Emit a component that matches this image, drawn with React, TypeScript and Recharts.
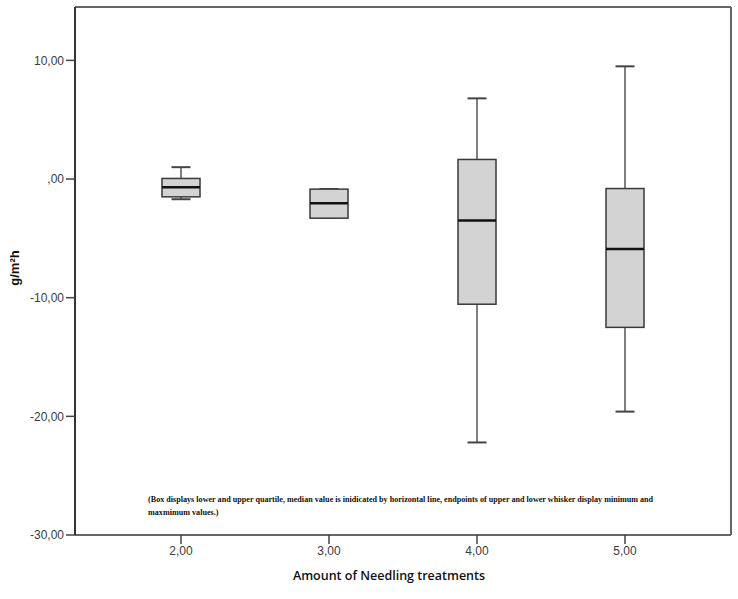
import React from "react";
import { ComposedChart, Bar, XAxis, YAxis, Label } from "recharts";

const categories = ["2,00", "3,00", "4,00", "5,00"];
const minimums = [-1.7, -3.25, -22.2, -19.6];
const lowerQuartiles = [-1.5, -3.3, -10.55, -12.5];
const medians = [-0.7, -2.05, -3.5, -5.9];
const upperQuartiles = [0.05, -0.85, 1.65, -0.8];
const maximums = [1.0, -0.85, 6.8, 9.5];
const yTicks = [-30, -20, -10, 0, 10];
const yDomain = [-30, 14.5];

const data = categories.map((name, i) => ({
  name,
  min: minimums[i],
  q1: lowerQuartiles[i],
  median: medians[i],
  q3: upperQuartiles[i],
  max: maximums[i],
  range: [minimums[i], maximums[i]],
}));

const fmt = (v: number) => (v === 0 ? ",00" : v.toFixed(2).replace(".", ","));

// box-and-whisker drawn inside the min..max range bar
const BoxShape = (props: any) => {
  const { x, y, width, height, payload } = props;
  const { min, q1, median, q3, max } = payload;
  const top = Math.min(y, y + height);
  const h = Math.abs(height);
  const toY = (v: number) => (max === min ? top : top + ((max - v) / (max - min)) * h);
  const cx = x + width / 2;
  const cap = width / 2;
  const yq3 = toY(q3);
  const yq1 = toY(q1);
  return (
    <g>
      <line x1={cx} x2={cx} y1={toY(max)} y2={yq3} stroke="#555" strokeWidth={1.5} />
      <line x1={cx} x2={cx} y1={yq1} y2={toY(min)} stroke="#555" strokeWidth={1.5} />
      <line x1={cx - cap / 2} x2={cx + cap / 2} y1={toY(max)} y2={toY(max)} stroke="#444" strokeWidth={2} />
      <line x1={cx - cap / 2} x2={cx + cap / 2} y1={toY(min)} y2={toY(min)} stroke="#444" strokeWidth={2} />
      <rect x={x} y={yq3} width={width} height={yq1 - yq3} fill="#d3d3d3" stroke="#3a3a3a" strokeWidth={1.5} />
      <line x1={x} x2={x + width} y1={toY(median)} y2={toY(median)} stroke="#111" strokeWidth={2.5} />
    </g>
  );
};

const tickStyle = { fontFamily: "Liberation Sans, Arial, sans-serif", fontSize: 12, fill: "#3c3c3c" };
const frameLine = { stroke: "#666", strokeWidth: 2 };

export default function App() {
  return (
    <div style={{ position: "absolute", left: 0, top: 0, width: 738, height: 599, background: "#fff" }}>
      <ComposedChart width={738} height={599} data={data} margin={{ top: 6, right: 6, left: 0, bottom: 24 }}>
        <XAxis
          dataKey="name"
          height={40}
          padding={{ left: 32, right: 32 }}
          tickSize={9}
          tick={tickStyle}
          axisLine={frameLine}
          tickLine={{ stroke: "#444", strokeWidth: 1.5 }}
        >
          <Label
            content={({ viewBox }: any) => (
              <text
                x={viewBox.x + viewBox.width / 2 - 14}
                y={viewBox.y + 45}
                textAnchor="middle"
                fontFamily="Open Sans, sans-serif"
                fontWeight={600}
                fontSize={12.5}
                fill="#111"
              >
                Amount of Needling treatments
              </text>
            )}
          />
        </XAxis>
        <XAxis xAxisId="frameTop" dataKey="name" orientation="top" height={1} tick={false} tickLine={false} axisLine={frameLine} />
        <YAxis
          width={75}
          domain={yDomain}
          ticks={yTicks}
          tickFormatter={fmt}
          tickSize={9}
          tick={tickStyle}
          axisLine={{ stroke: "#333", strokeWidth: 2 }}
          tickLine={{ stroke: "#444", strokeWidth: 1.5 }}
          allowDataOverflow
        >
          <Label
            content={({ viewBox }: any) => {
              const lx = viewBox.x + 14;
              const ly = viewBox.y + viewBox.height / 2 - 3;
              return (
                <text
                  x={lx}
                  y={ly}
                  transform={`rotate(-90 ${lx} ${ly})`}
                  textAnchor="middle"
                  dominantBaseline="central"
                  fontFamily="Liberation Sans, Arial, sans-serif"
                  fontWeight="bold"
                  fontSize={13}
                  fill="#111"
                >
                  g/m²h
                </text>
              );
            }}
          />
        </YAxis>
        <YAxis yAxisId="frameRight" orientation="right" width={1} domain={yDomain} tick={false} tickLine={false} axisLine={frameLine} />
        <Bar dataKey="range" barSize={38} isAnimationActive={false} shape={(p: any) => <BoxShape {...p} />} />
      </ComposedChart>
      <div
        style={{
          position: "absolute",
          left: 148,
          top: 494,
          fontFamily: "Liberation Serif, Times New Roman, serif",
          fontWeight: "bold",
          fontSize: 8.15,
          lineHeight: "12.5px",
          color: "#111",
          whiteSpace: "nowrap",
        }}
      >
        <div>(Box displays lower and upper quartile, median value is inidicated by horizontal line, endpoints of upper and lower whisker display minimum and</div>
        <div>maxmimum values.)</div>
      </div>
    </div>
  );
}
